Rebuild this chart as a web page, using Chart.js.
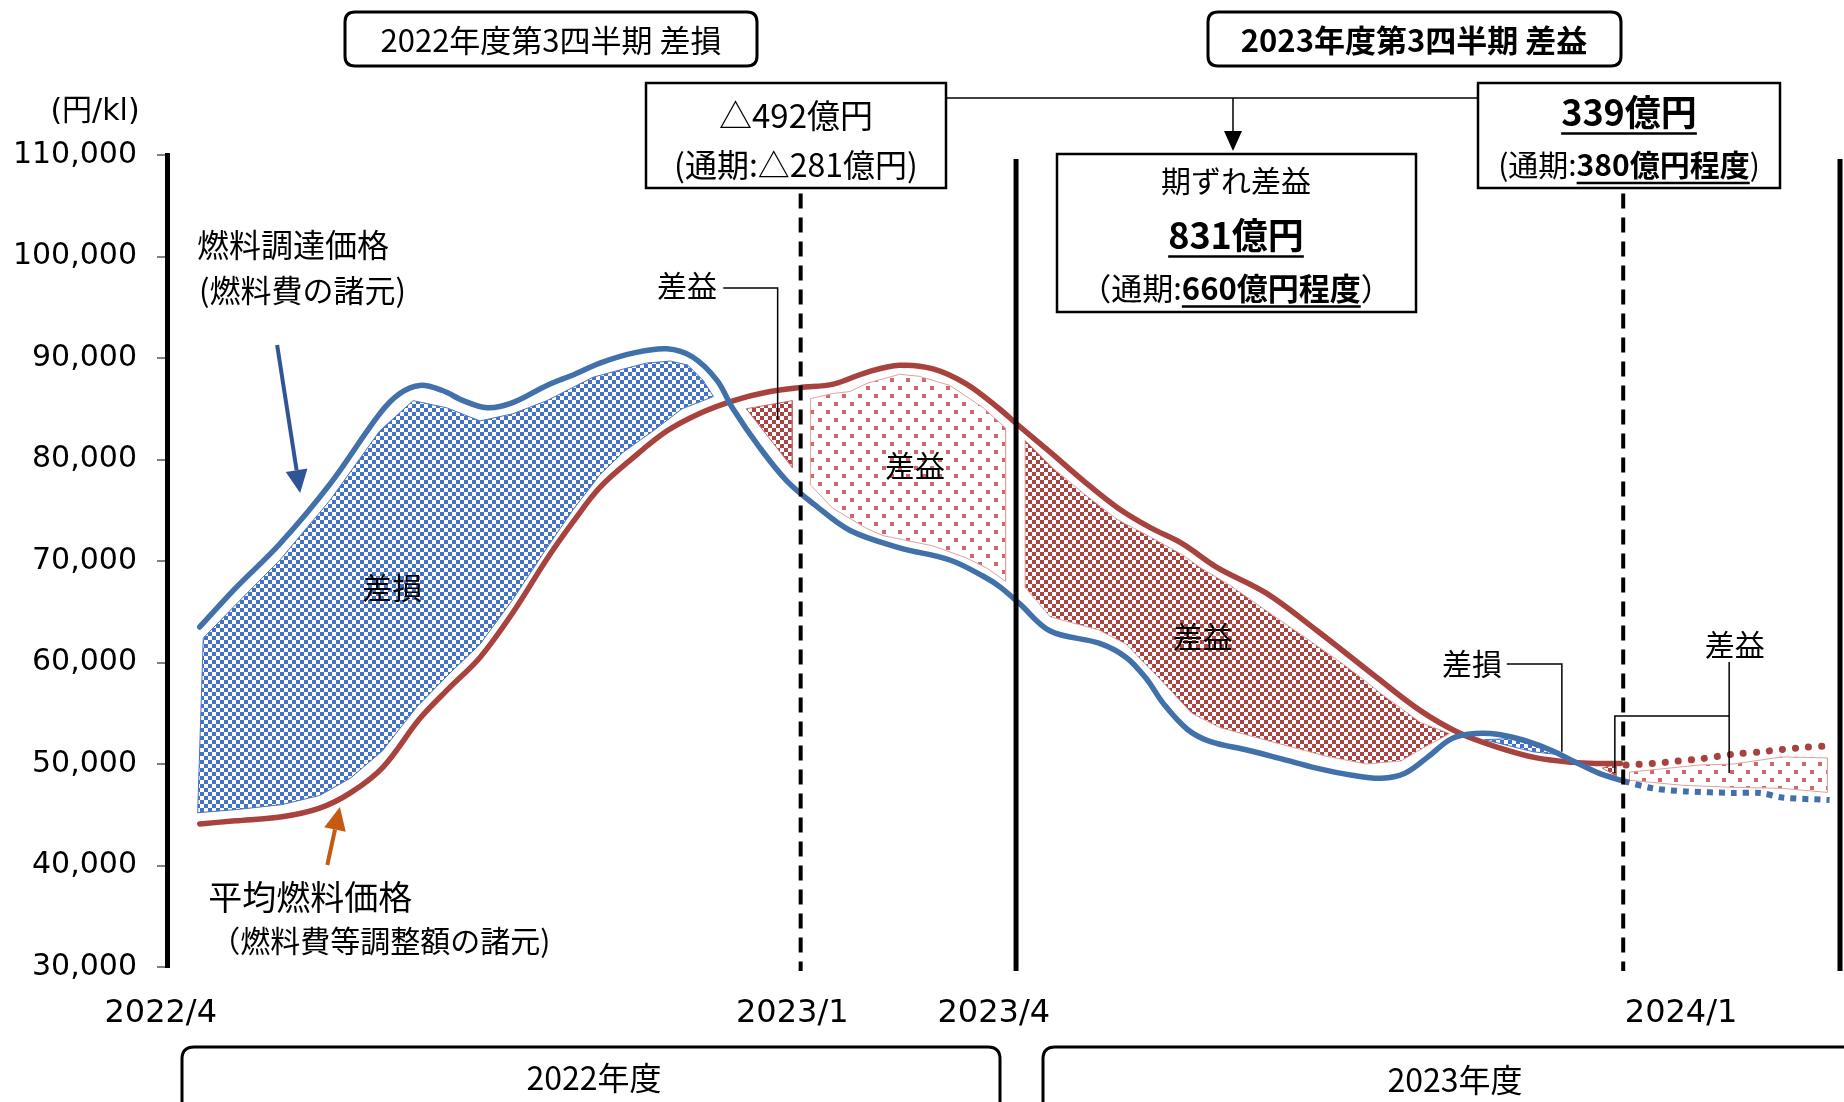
<!DOCTYPE html>
<html>
<head>
<meta charset="utf-8">
<script src="https://cdn.jsdelivr.net/npm/chart.js@4.4.1/dist/chart.umd.min.js"></script>
<style>
  html, body { margin: 0; padding: 0; background: #fff; }
  #wrap { width: 1844px; height: 1102px; }
</style>
</head>
<body>
<div id="wrap"><canvas id="chart" width="1844" height="1102"></canvas></div>
<script>
// x = months since 2022/4, y = 円/kl
var procurePrice = [[0.47,63500],[0.98,67300],[1.62,71700],[2.34,77600],[3.05,84500],[3.34,86500],[3.63,87300],[3.95,86800],[4.25,85800],[4.59,85100],[4.96,85600],[5.45,87300],[5.85,88400],[6.21,89500],[6.70,90500],[7.17,90900],[7.54,90100],[7.89,87800],[8.11,85100],[8.50,81200],[8.89,77900],[9.28,75600],[9.80,73000],[10.51,71300],[11.23,70100],[11.71,68500],[11.94,67500],[12.23,65800],[12.67,63100],[13.37,61900],[13.76,60500],[14.05,58400],[14.30,55900],[14.64,53400],[14.97,52200],[15.48,51400],[15.99,50500],[16.49,49600],[17.00,48900],[17.42,48600],[17.76,49100],[18.09,50700],[18.43,52500],[18.77,53000],[19.11,52900],[19.53,52200],[19.87,51300],[20.20,50200],[20.54,49100],[20.90,48300]];
var procureForecast = [[20.90,48300],[21.32,47600],[21.79,47300],[22.47,47150],[22.86,47150],[23.17,46700],[23.85,46450]];
var avgPrice = [[0.47,44100],[0.98,44400],[1.65,44800],[2.19,45650],[2.63,47150],[3.10,49700],[3.63,54500],[4.05,57500],[4.49,60500],[4.96,64900],[5.45,70200],[5.83,73900],[6.21,77250],[6.68,80140],[7.17,82800],[7.64,84540],[8.13,85810],[8.60,86620],[9.07,87080],[9.56,87430],[10.04,88590],[10.51,89280],[10.99,88930],[11.47,87430],[11.94,85000],[12.19,83500],[12.67,80720],[13.14,77940],[13.63,75280],[14.10,73310],[14.57,71690],[15.06,69380],[15.77,66830],[16.50,63130],[17.36,58500],[17.98,55260],[18.54,53050],[19.08,51670],[19.63,50630],[20.17,50160],[20.56,50050],[20.85,50050]];
var avgForecast = [[20.93,49900],[21.32,50050],[21.66,50280],[21.99,50500],[22.47,50970],[22.86,51200],[23.17,51430],[23.53,51660],[23.85,51780]];

// hatched areas (outline points)
var lossArea22 = [[0.52,62400],[1.00,65800],[1.62,70100],[2.34,76000],[3.05,82800],[3.53,85800],[4.01,85100],[4.49,83800],[4.96,84500],[5.45,85800],[6.11,88100],[6.54,88900],[6.88,89500],[7.22,89700],[7.47,89300],[7.69,87800],[7.84,86200],[7.39,85000],[6.97,82800],[6.54,80700],[6.21,78500],[5.83,75100],[5.45,71300],[4.96,66200],[4.49,61800],[4.05,58900],[3.58,55600],[3.09,51300],[2.63,48600],[2.19,46900],[1.65,46000],[0.98,45500],[0.44,45200],[0.52,62400]];
var gainSliver22 = [[8.31,85000],[8.97,85800],[8.97,79200],[8.31,85000]];
var gainArea22 = [[9.23,86000],[9.55,86500],[9.80,86700],[10.04,87500],[10.51,88400],[10.79,88200],[11.23,87300],[11.71,85100],[12.03,83100],[12.03,68000],[11.76,69300],[11.47,70300],[10.98,71500],[10.27,72500],[10.04,73200],[9.55,75200],[9.23,77500],[9.23,86000]];
var gainArea23 = [[12.31,81900],[12.70,79200],[13.14,76700],[13.63,74100],[14.10,72400],[14.57,70600],[14.81,69400],[15.25,67600],[15.77,65100],[16.34,62400],[16.88,59800],[17.15,58400],[17.44,56800],[17.98,54100],[18.40,53000],[18.05,51700],[17.70,50300],[17.20,50000],[16.61,50800],[15.79,52300],[15.10,53600],[14.70,55000],[14.24,58400],[13.76,61800],[13.37,63200],[12.67,64500],[12.31,67400],[12.31,81900]];
var lossLens23 = [[18.90,52400],[19.30,52500],[19.65,51700],[20.00,50900],[19.60,51200],[19.25,51800],[18.90,52400]];
var gainSliver23 = [[20.59,49600],[20.79,50000],[20.79,48800],[20.59,49600]];
var gainForecast = [[20.98,49200],[21.99,49900],[22.47,50000],[23.17,50700],[23.82,50600],[23.82,47200],[23.17,47600],[22.47,47700],[21.74,47900],[20.98,48400],[20.98,49200]];

var xTickLabels = ['2022/4', '2023/1', '2023/4', '2024/1'];
var xTickAt = [-0.09, 8.97, 11.86, 21.72];
var dividers = [{at: 9.09, dash: true}, {at: 12.18, dash: false}, {at: 20.89, dash: true}, {at: 24, dash: false}];

var BLUE = '#4170AA';
var RED = '#A8423E';
var JP = '"Noto Sans CJK JP", sans-serif';
var NUM = '"DejaVu Sans", "Noto Sans CJK JP", sans-serif';

var canvas = document.getElementById('chart');
var ctx = canvas.getContext('2d');

function makePattern(w, h, color, cells) {
    var t = document.createElement('canvas');
    t.width = w; t.height = h;
    var c = t.getContext('2d');
    c.fillStyle = '#fff';
    c.fillRect(0, 0, w, h);
    c.fillStyle = color;
    cells.forEach(function(p) { c.fillRect(p[0], p[1], p[2], p[2]); });
    return ctx.createPattern(t, 'repeat');
}
var blueCheck = makePattern(8, 8, '#4472C4', [[0, 0, 4], [4, 4, 4]]);
var redCheck = makePattern(8, 8, '#A94442', [[0, 0, 4], [4, 4, 4]]);
var redDots = makePattern(16, 16, '#D06868', [[2, 2, 4], [10, 10, 4]]);

function pts(arr) {
    return arr.map(function(p) { return {x: p[0], y: p[1]}; });
}

function area(data, pattern, edge) {
    return {data: pts(data), fill: 'shape', backgroundColor: pattern, borderColor: edge,
        borderWidth: 1, tension: 0, pointRadius: 0, order: 1};
}

function roundBox(c, x, y, w, h, r) {
    c.beginPath();
    c.moveTo(x + r, y);
    c.lineTo(x + w - r, y);
    c.quadraticCurveTo(x + w, y, x + w, y + r);
    c.lineTo(x + w, y + h - r);
    c.quadraticCurveTo(x + w, y + h, x + w - r, y + h);
    c.lineTo(x + r, y + h);
    c.quadraticCurveTo(x, y + h, x, y + h - r);
    c.lineTo(x, y + r);
    c.quadraticCurveTo(x, y, x + r, y);
    c.closePath();
}

function label(c, str, x, y, font, align) {
    c.font = font;
    c.textAlign = align || 'center';
    c.textBaseline = 'middle';
    c.fillStyle = '#000';
    c.fillText(str, x, y);
}

// text made of runs, some bold / underlined
function runs(c, parts, cx, cy, size) {
    var total = 0;
    parts.forEach(function(r) {
        c.font = (r.b ? 'bold ' : '') + size + 'px ' + JP;
        r.w = c.measureText(r.t).width;
        total += r.w;
    });
    var x = cx - total / 2;
    c.textAlign = 'left';
    c.textBaseline = 'middle';
    c.fillStyle = '#000';
    c.strokeStyle = '#000';
    parts.forEach(function(r) {
        c.font = (r.b ? 'bold ' : '') + size + 'px ' + JP;
        c.fillText(r.t, x, cy);
        if (r.u) {
            c.lineWidth = 2.5;
            c.beginPath();
            c.moveTo(x, cy + size * 0.6);
            c.lineTo(x + r.w, cy + size * 0.6);
            c.stroke();
        }
        x += r.w;
    });
}

function arrow(c, x1, y1, x2, y2, color, width, len, half) {
    var a = Math.atan2(y2 - y1, x2 - x1);
    var bx = x2 - Math.cos(a) * len, by = y2 - Math.sin(a) * len;
    c.strokeStyle = color;
    c.fillStyle = color;
    c.lineWidth = width;
    c.beginPath();
    c.moveTo(x1, y1);
    c.lineTo(bx, by);
    c.stroke();
    c.beginPath();
    c.moveTo(x2, y2);
    c.lineTo(bx + Math.sin(a) * half, by - Math.cos(a) * half);
    c.lineTo(bx - Math.sin(a) * half, by + Math.cos(a) * half);
    c.closePath();
    c.fill();
}

function path(c, list, width) {
    c.strokeStyle = '#000';
    c.lineWidth = width;
    c.beginPath();
    list.forEach(function(p, i) { if (i === 0) c.moveTo(p[0], p[1]); else c.lineTo(p[0], p[1]); });
    c.stroke();
}

var annotations = {
    id: 'annotations',
    afterDraw: function(chart) {
        var c = chart.ctx;
        var X = function(m) { return chart.scales.x.getPixelForValue(m); };
        var Y = function(v) { return chart.scales.y.getPixelForValue(v); };
        var bottom = chart.chartArea.bottom;
        c.save();

        // period boundaries
        dividers.forEach(function(d) {
            if (d.dash) {
                c.setLineDash([15, 9]);
                path(c, [[X(d.at), Y(106200)], [X(d.at), Y(29600)]], 4);
            } else {
                c.setLineDash([]);
                path(c, [[X(d.at), Y(109600)], [X(d.at), Y(29600)]], 5);
            }
        });
        c.setLineDash([]);

        // unit
        label(c, '(円/kl)', 95, 112, '30px ' + NUM);

        // header boxes
        c.lineWidth = 3;
        c.strokeStyle = '#000';
        roundBox(c, 345, 12, 412, 54, 10); c.stroke();
        label(c, '2022年度第3四半期 差損', 551, 40, '31px ' + JP);
        roundBox(c, 1208, 12, 413, 54, 10); c.stroke();
        label(c, '2023年度第3四半期 差益', 1414, 40, 'bold 31px ' + JP);

        // connector and arrow to the 期ずれ box
        path(c, [[946, 98], [1478, 98]], 1.5);
        arrow(c, 1233, 98, 1233, 151, '#000', 1.5, 20, 9);

        c.fillStyle = '#fff';
        c.lineWidth = 2.5;
        c.strokeStyle = '#000';
        c.fillRect(646, 83, 300, 105); c.strokeRect(646, 83, 300, 105);
        c.fillRect(1057, 154, 359, 158); c.strokeRect(1057, 154, 359, 158);
        c.fillRect(1478, 83, 302, 105); c.strokeRect(1478, 83, 302, 105);

        label(c, '△492億円', 796, 115, '33px ' + JP);
        label(c, '(通期:△281億円)', 796, 165, '32px ' + JP);

        label(c, '期ずれ差益', 1236, 181, '30px ' + JP);
        runs(c, [{t: '831億円', b: true, u: true}], 1236, 235, 36);
        runs(c, [{t: '（通期:'}, {t: '660億円程度', b: true, u: true}, {t: '）'}], 1236, 288, 31);

        runs(c, [{t: '339億円', b: true, u: true}], 1629, 112, 36);
        runs(c, [{t: '(通期:'}, {t: '380億円程度', b: true, u: true}, {t: ')'}], 1629, 165, 30);

        // series names and pointers
        label(c, '燃料調達価格', X(0.43), Y(101100), '32px ' + JP, 'left');
        label(c, '(燃料費の諸元)', X(0.46), Y(96700), '31px ' + JP, 'left');
        label(c, '平均燃料価格', X(0.59), Y(36900), '34px ' + JP, 'left');
        label(c, '（燃料費等調整額の諸元)', X(0.62), Y(32600), '30px ' + JP, 'left');
        arrow(c, X(1.58), Y(91280), X(1.91), Y(76700), '#2F5597', 4, 23, 11);
        arrow(c, X(2.30), Y(40050), X(2.48), Y(45760), '#C55A11', 4, 23, 11);

        // area labels
        label(c, '差損', X(3.23), Y(67340), '30px ' + JP);
        label(c, '差益', X(10.73), Y(79360), '30px ' + JP);
        label(c, '差益', X(14.86), Y(62510), '30px ' + JP);

        label(c, '差益', X(7.46), Y(97100), '30px ' + JP);
        path(c, [[X(7.98), Y(96900)], [X(8.76), Y(96900)], [X(8.76), Y(83900)]], 1.5);

        label(c, '差損', X(18.72), Y(59850), '30px ' + JP);
        path(c, [[X(19.22), Y(59850)], [X(20.01), Y(59850)], [X(20.01), Y(51200)]], 1.5);

        label(c, '差益', X(22.49), Y(61730), '30px ' + JP);
        path(c, [[X(22.41), Y(60050)], [X(22.41), Y(49110)]], 1.5);
        path(c, [[X(20.77), Y(49110)], [X(20.77), Y(54730)], [X(22.41), Y(54730)]], 1.5);

        // x labels
        xTickLabels.forEach(function(t, i) {
            label(c, t, X(xTickAt[i]), bottom + 47, '32px ' + NUM);
        });

        // fiscal year boxes
        c.lineWidth = 3;
        c.strokeStyle = '#000';
        roundBox(c, 182, 1047, 818, 80, 12); c.stroke();
        label(c, '2022年度', 594, 1078, '32px ' + JP);
        roundBox(c, 1043, 1047, 830, 80, 12); c.stroke();
        label(c, '2023年度', 1455, 1080, '32px ' + JP);

        c.restore();
    }
};

new Chart(ctx, {
    type: 'line',
    data: {
        datasets: [
            {label: '燃料調達価格', data: pts(procurePrice), borderColor: BLUE, borderWidth: 5.5,
                tension: 0.35, pointRadius: 0, fill: false, borderCapStyle: 'round', order: 0},
            {label: '燃料調達価格(見通し)', data: pts(procureForecast), borderColor: BLUE, borderWidth: 6,
                borderDash: [6, 6], tension: 0.3, pointRadius: 0, fill: false, order: 0},
            {label: '平均燃料価格', data: pts(avgPrice), borderColor: RED, borderWidth: 5.5,
                tension: 0.35, pointRadius: 0, fill: false, borderCapStyle: 'round', order: 0},
            {label: '平均燃料価格(見通し)', data: pts(avgForecast), borderColor: RED, borderWidth: 7,
                borderDash: [0.1, 13], borderCapStyle: 'round', tension: 0.3, pointRadius: 0, fill: false, order: 0},
            area(lossArea22, blueCheck, '#4472C4'),
            area(gainSliver22, redCheck, '#C87070'),
            area(gainArea22, redDots, '#E0A0A0'),
            area(gainArea23, redCheck, '#E0A0A0'),
            area(lossLens23, blueCheck, '#4472C4'),
            area(gainSliver23, redCheck, '#C87070'),
            area(gainForecast, redDots, '#E0A0A0')
        ]
    },
    options: {
        responsive: false,
        animation: false,
        devicePixelRatio: 1,
        layout: {padding: {top: 155, bottom: 135, left: 0, right: 4}},
        plugins: {legend: {display: false}, tooltip: {enabled: false}},
        scales: {
            x: {type: 'linear', min: 0, max: 24, display: false},
            y: {
                min: 30000, max: 110000,
                afterFit: function(scale) { scale.width = 167; },
                ticks: {
                    stepSize: 10000, padding: 20, color: '#000',
                    font: {family: '"DejaVu Sans"', size: 30},
                    callback: function(v) { return v.toLocaleString('en-US'); }
                },
                grid: {drawOnChartArea: false, drawTicks: true, tickLength: 10, color: '#808080', lineWidth: 2},
                border: {display: true, color: '#000', width: 5}
            }
        }
    },
    plugins: [annotations]
});
</script>
</body>
</html>
